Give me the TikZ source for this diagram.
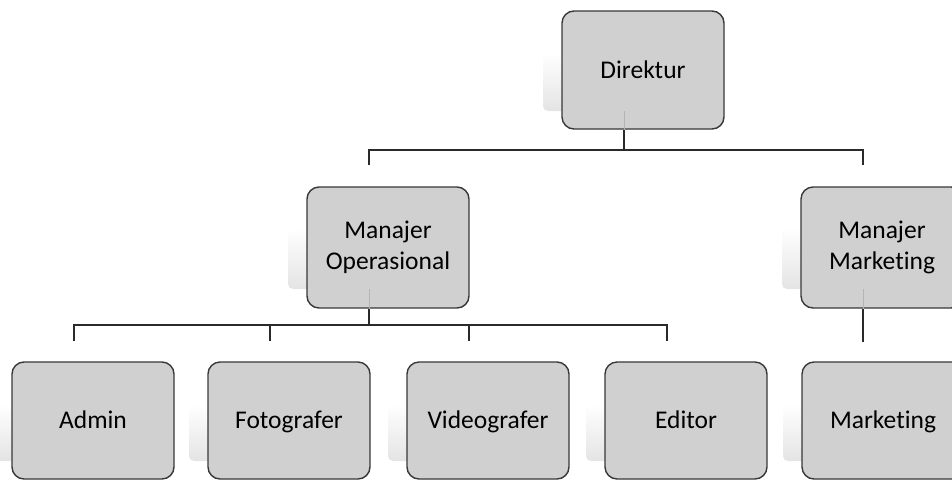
\documentclass[tikz,border=0pt]{standalone}
\usepackage{fontspec}
\setmainfont{Carlito}[Ligatures={NoCommon}]
\definecolor{boxfill}{HTML}{D0D0D0}
\definecolor{boxline}{HTML}{383838}
\definecolor{shadecol}{HTML}{E4E4E4}
\definecolor{connline}{HTML}{2A2A2A}
\definecolor{innerline}{HTML}{B4B4B4}
\begin{document}
\begin{tikzpicture}[x=1pt,y=-1pt,
  orgbox/.style={draw=boxline, fill=boxfill, rounded corners=12pt, line width=1.4pt,
    minimum width=162pt, inner sep=0pt, align=center,
    font=\fontsize{25.5}{31}\selectfont, text=black},
  onebox/.style={orgbox, text height=18pt, text depth=2pt},
  shadebox/.style={rounded corners=5pt, top color=white, bottom color=shadecol,
    minimum width=162pt, inner sep=0pt},
  conn/.style={draw=connline, line width=1.7pt},
  innerconn/.style={draw=innerline, line width=1pt}]
\useasboundingbox (0,0) rectangle (952,480);
\clip (0,0) rectangle (952,480);
% shadows
\node[shadebox, minimum height=58pt] (dS) at (624,82) {};
\node[shadebox, minimum height=61pt] (opS) at (369,258.5) {};
\node[shadebox, minimum height=61pt] (mmS) at (863,258.5) {};
\node[shadebox, minimum height=57pt] (aS) at (74,432.5) {};
\node[shadebox, minimum height=57pt] (fS) at (270,432.5) {};
\node[shadebox, minimum height=57pt] (vS) at (469,432.5) {};
\node[shadebox, minimum height=57pt] (eS) at (667,432.5) {};
\node[shadebox, minimum height=57pt] (kS) at (864,432.5) {};
% boxes
\node[onebox, minimum height=118pt] (d) at (643,70) {Direktur};
\node[orgbox, minimum height=121pt] (op) at (388,247.5) {Manajer\\Operasional};
\node[orgbox, minimum height=121pt] (mm) at (882,247.5) {Manajer\\Marketing};
\node[onebox, minimum height=117pt] (a) at (93,420.5) {Admin};
\node[onebox, minimum height=117pt] (f) at (289,420.5) {Fotografer};
\node[onebox, minimum height=117pt] (v) at (488,420.5) {Videografer};
\node[onebox, minimum height=117pt] (e) at (686,420.5) {Editor};
\node[onebox, minimum height=117pt] (k) at (883,420.5) {Marketing};
% faint connector parts seen through the boxes
\draw[innerconn] (dS.south) -- (dS |- d.south);
\draw[innerconn] (opS.south) -- (opS |- op.south);
\draw[innerconn] (mmS.south) -- (mmS |- mm.south);
% connectors level 1
\coordinate (j1) at (624,150);
\coordinate (t1a) at (369,165);
\coordinate (t1b) at (863,165);
\draw[conn] (dS |- d.south) -- (j1);
\draw[conn] (t1a) |- (j1) -| (t1b);
% connectors level 2
\coordinate (j2) at (369,325);
\coordinate (ta) at (74,341);
\coordinate (tf) at (270,341);
\coordinate (tv) at (469,341);
\coordinate (te) at (667,341);
\draw[conn] (opS |- op.south) -- (j2);
\draw[conn] (ta) |- (j2) -| (te);
\draw[conn] (tf) -- (tf |- j2);
\draw[conn] (tv) -- (tv |- j2);
\coordinate (tk) at (863,342);
\draw[conn] (mmS |- mm.south) -- (tk);
\end{tikzpicture}
\end{document}
